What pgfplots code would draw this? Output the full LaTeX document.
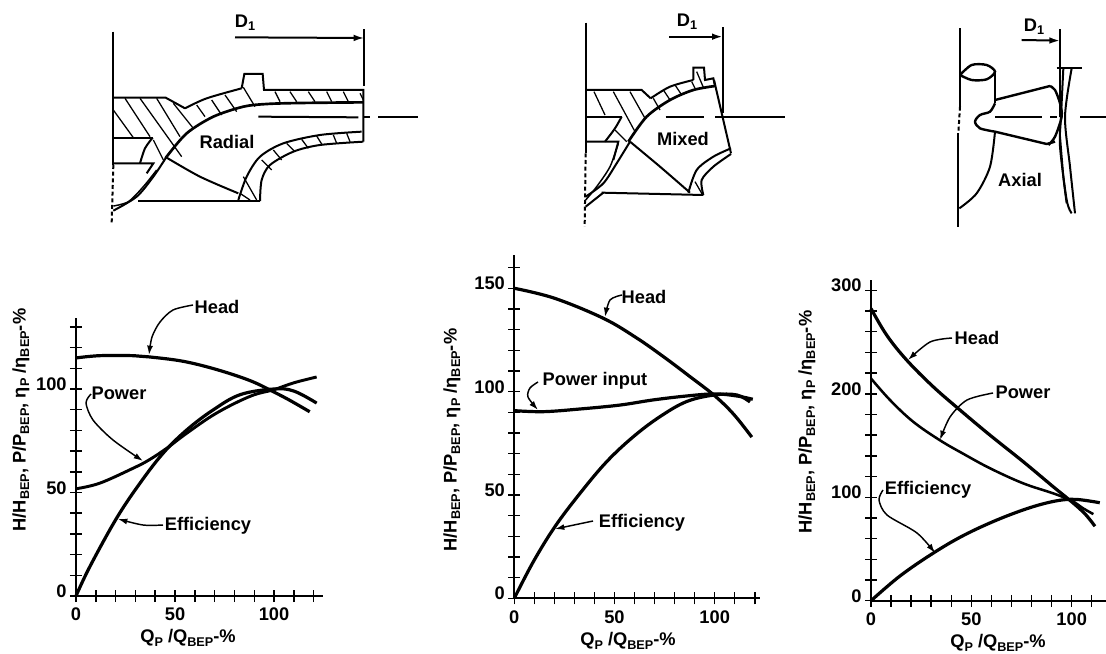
\documentclass[border=0pt]{standalone}
\usepackage{pgfplots}
\pgfplotsset{compat=1.18}
\usepackage{fontspec}
\setmainfont{Liberation Sans}
\usetikzlibrary{arrows.meta}
\newcommand\fs{\fontsize{13.7}{16}\bfseries\selectfont}
\newcommand\lab{\fontsize{13.7}{15}\bfseries\selectfont}
\newcommand\sbs[1]{\raisebox{-0.35ex}{\fontsize{9.5}{10}\selectfont #1}}
\pgfplotsset{
 chart/.style={
  scale only axis, axis lines=left, axis line style={-,line width=1.3pt},
  clip=false, anchor=south west, xmin=0, ymin=0,
  tick align=center, major tick length=9pt, tick style={black,line width=1.1pt},
  /pgf/number format/assume math mode=true,
  tick label style={font=\fs},
  yticklabel style={yshift=3.5pt,xshift=1pt},
  xticklabel style={yshift=-1pt},
 },
 sk/.style={hide axis, scale only axis, clip=false, anchor=south west, y dir=reverse, xmin=0, ymin=0},
 curve/.style={black,line width=#1,smooth,tension=0.6,no marks},
 ln/.style={black,line width=1.5pt,no marks},
 ht/.style={black,line width=0.95pt,no marks},
 lead/.style={black,line width=1.1pt,no marks,smooth,-{Latex[length=7pt,width=4.5pt]}},
}
\newcommand\Ln[2][]{\addplot[ln,#1] coordinates {#2};}
\newcommand\Sm[2][]{\addplot[ln,smooth,tension=0.5,#1] coordinates {#2};}
\newcommand\Ht[1]{\addplot[ht] coordinates {#1};}
\begin{document}
\begin{tikzpicture}
\path[use as bounding box] (0,0) rectangle (829.5pt,489.75pt);
% ---------- Left chart
\begin{axis}[chart, at={(57pt,42.75pt)}, width=185.25pt, height=208.5pt, xmax=124.7, ymax=134.3,
 xtick={0,10,...,120}, xticklabels={0,,,,,50,,,,,100,,},
 ytick={0,10,...,130}, yticklabels={0,,,,,50,,,,,100,,,}]
\addplot[curve=2.4pt] coordinates {(0,115)(12,116.1)(29,116.1)(37,115.5)(54,113.4)(71,109.4)(88,104)(100,98.5)(108,94.5)(118,89)};
\addplot[curve=2.2pt] coordinates {(0,51.8)(12,54.5)(29,61.8)(37,65.8)(46,71.5)(56,78.7)(71,88.4)(88,96.5)(100,99.7)(110,103)(121.5,105.8)};
\addplot[curve=2.4pt] coordinates {(0,0)(7,14.2)(20.5,37.6)(32.3,54.5)(44,69)(56,80.3)(69.4,90)(83,97.3)(100,100)(110,99)(121.5,93.2)};
\end{axis}
% ---------- Middle chart
\begin{axis}[chart, at={(385.7pt,41pt)}, width=184.3pt, height=257.5pt, xmax=122.6, ymax=166.1,
 xtick={0,10,...,120}, xticklabels={0,,,,,50,,,,,100,,},
 ytick={0,10,...,160}, yticklabels={0,,,,,50,,,,,100,,,,,150,}]
\addplot[curve=2.4pt] coordinates {(0,150)(20,145.2)(44.4,135.5)(61,126)(75,116.5)(88,107)(100,98)(109.5,89)(118.5,78)};
\addplot[curve=2.4pt] coordinates {(0,90.8)(14.5,90.3)(32.8,91.6)(52.7,93.5)(69.4,96)(86,97.9)(100,98.9)(111,97.9)(119,96.3)};
\addplot[curve=2.4pt] coordinates {(0,0)(9.5,17.7)(20.3,34.7)(32.8,50.8)(46,66)(59.4,78.2)(72.7,87.9)(86,95.2)(100,98.4)(111,98.4)(117.6,95)};
\end{axis}
% ---------- Right chart
\begin{axis}[chart, at={(653.25pt,39.2pt)}, width=176.25pt, height=240.5pt, xmax=117.1, ymax=309.9,
 xtick={0,10,...,110}, xticklabels={0,,,,,50,,,,,100,},
 ytick={0,20,...,300}, yticklabels={0,,,,,100,,,,,200,,,,,300}]
\addplot[curve=2.4pt] coordinates {(0,282.4)(7.8,256.7)(17.8,232.5)(31,206.8)(44.4,184.2)(59.3,160)(75.9,134.3)(90.9,110)(100,95.6)(106.6,84)(111.6,72)};
\addplot[curve=1.9pt] coordinates {(0,214.8)(9.5,193.9)(21,173)(34.4,155)(46,142)(59.3,128)(75.9,113.4)(90.9,103.7)(100,96.6)(105.8,89.2)(110.8,83.7)};
\addplot[curve=2.4pt] coordinates {(0,0)(14.5,24)(31,46)(46,63)(62.7,78)(79.3,90)(92.6,96.6)(102.3,97.9)(114,94.7)};
\end{axis}
% ---------- Annotations (image pixel coordinates)
\begin{axis}[sk, at={(0pt,0pt)}, width=829.5pt, height=489.75pt, xmax=1106, ymax=653]
\addplot[lead] coordinates {(193,305)(173,310)(160,322)(152,337)(149,355)};
\addplot[lead] coordinates {(91,394)(86,403)(93,420)(113,440)(143,461)};
\addplot[lead] coordinates {(163,525)(143,525)(118,519)};
\addplot[lead] coordinates {(622,295)(610,300)(605,317)};
\addplot[lead] coordinates {(538,382)(530,388)(528,397)(538,410)};
\addplot[lead] coordinates {(593,521)(555,529)};
\addplot[lead] coordinates {(952,338)(930,342)(908,360)};
\addplot[lead] coordinates {(993,393)(967,400)(950,417)(940,440)};
\addplot[lead] coordinates {(883,490)(879,500)(887,515)(917,533)(935,553)};
\node[font=\lab] at (axis cs:217,307) {Head};
\node[font=\lab] at (axis cs:119,393) {Power};
\node[font=\lab] at (axis cs:208,526) {Efficiency};
\node[font=\lab] at (axis cs:644,297) {Head};
\node[font=\lab] at (axis cs:595,381) {Power input};
\node[font=\lab] at (axis cs:642,523) {Efficiency};
\node[font=\lab] at (axis cs:977,338) {Head};
\node[font=\lab] at (axis cs:1023,392) {Power};
\node[font=\lab] at (axis cs:928,490) {Efficiency};
\node[font=\lab] at (axis cs:188,638) {Q\sbs{P} /Q\sbs{BEP}-\%};
\node[font=\lab] at (axis cs:628,641) {Q\sbs{P} /Q\sbs{BEP}-\%};
\node[font=\lab] at (axis cs:998,643) {Q\sbs{P} /Q\sbs{BEP}-\%};
\node[font=\lab,rotate=90] at (axis cs:21,420) {H/H\sbs{BEP}, P/P\sbs{BEP}, η\sbs{P} /η\sbs{BEP}-\%};
\node[font=\lab,rotate=90] at (axis cs:452,440) {H/H\sbs{BEP}, P/P\sbs{BEP}, η\sbs{P} /η\sbs{BEP}-\%};
\node[font=\lab,rotate=90] at (axis cs:807,422) {H/H\sbs{BEP}, P/P\sbs{BEP}, η\sbs{P} /η\sbs{BEP}-\%};
\node[font=\lab] at (axis cs:227,142) {Radial};
\node[font=\lab] at (axis cs:683,139) {Mixed};
\node[font=\lab] at (axis cs:1020,180) {Axial};
\node[font=\lab] at (axis cs:245,23) {D\sbs{1}};
\node[font=\lab] at (axis cs:687,22) {D\sbs{1}};
\node[font=\lab] at (axis cs:1034,27) {D\sbs{1}};
\end{axis}
% ---------- Radial sketch (crop coords, 3x)
\begin{axis}[sk, at={(0pt,309.75pt)}, width=330pt, height=180pt, xmax=1320, ymax=720]
\Ln{(340,95)(340,495)}
\Ln[densely dashed]{(340,495)(335,670)}
\Ln[-{Latex[length=8pt,width=5pt]}]{(705,112)(1093,114)}
\Ln{(1093,88)(1093,258)}
\Ln{(775,350)(1075,352)}
\Ln{(1092,352)(1110,352)}
\Ln{(1135,352)(1255,352)}
\Ln{(340,293)(497,293)(555,325)}
\Sm{(555,325)(620,295)(725,265)}
\Ln{(725,265)(733,222)(788,222)(792,270)(1090,270)(1090,425)}
\Sm[line width=2pt]{(500,470)(560,400)(640,350)(730,320)(800,312)(900,309)(1090,307)}
\Sm{(1085,395)(960,405)(850,430)(780,470)(740,530)(715,600)}
\Sm{(1090,425)(960,435)(880,455)(810,495)(785,540)(780,603)}
\Ln{(415,603)(780,603)}
\Sm{(495,470)(600,530)(715,580)}
\Ln{(340,413)(460,413)}
\Sm{(458,413)(435,445)(420,490)}
\Ln{(340,490)(460,490)(440,520)}
\Sm{(500,470)(460,530)(410,590)(340,632)}
\Sm[line width=1.1pt]{(470,510)(430,560)(385,605)(340,618)}
\Ht{(340,330)(400,413)}\Ht{(375,295)(450,410)}\Ht{(420,295)(545,470)}\Ht{(470,295)(540,410)}
\Ht{(520,310)(580,385)}\Ht{(590,315)(615,350)}\Ht{(635,300)(665,345)}\Ht{(675,285)(710,335)}\Ht{(730,262)(765,320)}
\Ht{(460,420)(490,480)}
\Ht{(825,275)(840,305)}\Ht{(870,275)(890,305)}\Ht{(925,275)(945,305)}\Ht{(980,275)(995,305)}\Ht{(1030,275)(1045,305)}\Ht{(1080,280)(1090,300)}
\Ht{(1040,400)(1050,425)}\Ht{(1000,405)(1010,430)}\Ht{(950,408)(965,432)}\Ht{(905,418)(925,445)}\Ht{(860,430)(885,455)}\Ht{(820,450)(845,480)}\Ht{(785,480)(815,510)}\Ht{(730,530)(770,600)}\Ht{(720,580)(750,600)}
\end{axis}
% ---------- Mixed sketch
\begin{axis}[sk, at={(390pt,309.75pt)}, width=225pt, height=180pt, xmax=900, ymax=720]
\Ln{(197,68)(197,460)}
\Ln[densely dashed]{(197,460)(194,680)}
\Ln[-{Latex[length=8pt,width=5pt]}]{(447,110)(608,110)}
\Ln{(610,82)(610,340)}
\Ln{(437,352)(553,352)}
\Ln{(585,352)(795,352)}
\Ln{(582,240)(633,460)}
\Ln{(197,270)(365,270)(392,295)}
\Sm{(392,295)(450,260)(520,240)}
\Ln{(520,240)(520,203)(552,203)(555,240)(580,235)(585,258)}
\Sm[line width=2pt]{(325,425)(380,350)(450,300)(520,270)(585,258)}
\Sm{(330,425)(420,500)(510,578)}
\Ln{(245,578)(550,585)}
\Sm{(505,578)(530,510)(580,470)(633,445)}
\Sm{(550,585)(545,540)(580,500)(633,462)}
\Ln{(197,350)(305,350)}
\Sm{(305,350)(285,385)(255,425)}
\Ln{(197,425)(295,425)(280,480)}
\Sm{(330,425)(290,490)(250,550)(197,590)}
\Sm[line width=1.1pt]{(295,430)(270,500)(230,560)(197,600)}
\Ln{(197,620)(250,578)}
\Ht{(222,275)(255,345)}\Ht{(280,275)(345,395)}\Ht{(330,275)(375,355)}\Ht{(400,295)(420,330)}\Ht{(430,270)(450,300)}\Ht{(465,255)(485,285)}\Ht{(515,245)(525,265)}\Ht{(530,215)(550,262)}\Ht{(285,390)(320,425)}
\Ht{(525,545)(548,585)}
\end{axis}
% ---------- Axial sketch
\begin{axis}[sk, at={(675pt,309.75pt)}, width=154.5pt, height=180pt, xmax=618, ymax=720]
\Ln{(180,85)(180,320)}
\Ln[densely dashed]{(180,320)(175,400)}
\Ln{(175,400)(175,680)}
\Ln[-{Latex[length=8pt,width=5pt]}]{(365,120)(480,122)}
\Ln{(480,88)(480,350)}
\Ln{(285,352)(425,352)}
\Ln{(450,352)(470,352)}
\Ln{(540,352)(618,352)}
\Sm[line width=1.8pt]{(180,225)(215,195)(260,195)(285,215)(260,238)(215,240)(180,225)}
\Ln{(285,215)(285,310)}
\Sm[line width=1.8pt]{(285,310)(270,335)(240,345)(225,365)(240,385)(285,395)}
\Ln[line width=1.8pt]{(285,300)(450,258)}
\Sm[line width=1.8pt]{(450,258)(465,270)(480,310)(485,350)(465,410)(445,435)}
\Ln[line width=1.8pt]{(285,395)(440,432)(465,425)}
\Sm{(285,395)(270,500)(230,580)(178,625)}
\Ln{(470,205)(545,205)}
\Sm{(490,205)(483,350)(480,440)(500,600)(515,640)}
\Sm{(515,205)(495,350)(510,500)(525,640)}
\Sm{(480,410)(490,530)(500,610)}
\end{axis}
\end{tikzpicture}
\end{document}
